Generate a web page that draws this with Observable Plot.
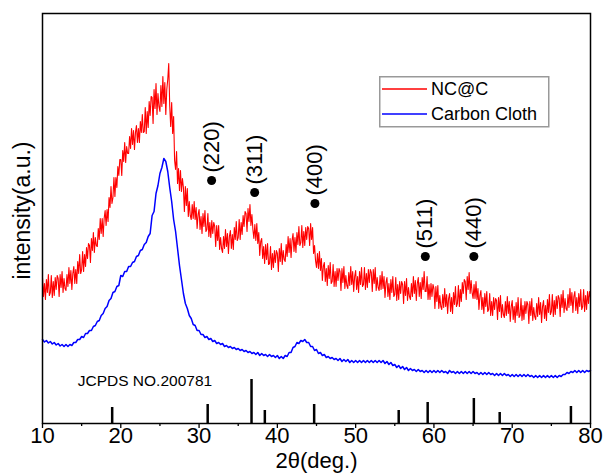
<!DOCTYPE html>
<html>
<head>
<meta charset="utf-8">
<script src="https://cdn.jsdelivr.net/npm/d3@7"></script>
<script src="https://cdn.jsdelivr.net/npm/@observablehq/plot@0.6"></script>
<style>
  body { margin: 0; background: #fff; }
  #wrap { position: relative; width: 604px; height: 476px; font-family: "Liberation Sans", Arial, sans-serif; }
  #legend { position: absolute; left: 379px; top: 76px; }
</style>
</head>
<body>
<div id="wrap"></div>
<script>
// ---- data ----
const angleStart = 10;      // 2θ of the first sample (deg)
const ncStep = 0.125;       // NC@C sampling step (deg)
const ccStep = 0.25;        // Carbon Cloth sampling step (deg)

const seriesNames = ["NC@C", "Carbon Cloth"];
const seriesColors = ["#ff0000", "#0000ff"];

// NC@C intensity (a.u.) (8 samples per degree)
const ncValues = [
  146,127,140,124,144,131,149,128, 131,148,126,142,128,146,134,148,
  145,127,149,136,152,131,145,135, 133,149,137,156,140,153,134,150,
  157,140,154,140,162,150,169,150, 154,172,152,169,157,176,165,180,
  178,161,185,173,191,171,186,178, 177,195,184,205,190,205,187,205,
  213,198,214,202,226,216,237,220, 226,246,227,246,236,257,248,264,
  264,248,273,262,281,261,277,270, 270,287,275,295,279,293,274,291,
  298,281,295,281,302,291,309,291, 292,316,290,312,296,322,308,327,
  326,300,334,315,340,309,330,317, 312,338,317,347,320,341,309,334,
  344,360,318,297,321,290,307,263, 254,272,240,255,233,253,232,245,
  236,212,237,218,235,207,222,208, 204,219,205,222,204,216,195,209,
  214,194,207,190,210,197,213,192, 194,210,187,201,186,203,190,201,
  197,177,198,183,198,174,186,175, 171,187,175,194,177,190,170,187,
  193,175,189,174,196,184,202,183, 186,204,184,201,189,208,197,212,
  210,192,215,202,219,198,209,194, 185,199,183,200,180,191,168,182,
  185,165,177,160,179,164,180,159, 160,177,154,170,156,173,161,173,
  170,152,175,162,180,159,173,164, 162,179,167,187,171,185,166,183,
  190,172,186,171,191,179,197,178, 181,198,176,192,178,196,184,197,
  195,178,200,184,196,170,178,163, 156,170,155,172,153,165,143,157,
  161,142,155,138,158,145,161,140, 142,159,137,152,137,155,143,155,
  152,133,155,141,157,135,148,138, 135,151,138,157,139,152,132,147,
  153,134,147,131,152,139,156,137, 139,156,134,150,136,154,141,154,
  151,132,154,140,156,133,146,136, 133,148,134,152,135,147,126,141,
  146,127,140,124,144,131,147,127, 129,146,123,139,124,142,130,142,
  139,120,142,128,145,123,136,127, 124,140,127,147,130,143,123,140,
  146,127,141,125,146,134,152,132, 132,147,124,139,124,140,127,139,
  135,115,137,122,138,115,128,117, 114,129,116,135,117,129,110,125,
  130,112,126,110,131,119,137,117, 120,138,117,134,122,141,130,144,
  142,124,147,134,151,130,143,131, 125,139,125,142,124,135,114,128,
  133,114,126,110,130,117,132,112, 114,130,108,122,108,126,114,125,
  123,104,126,112,128,106,119,109, 106,122,108,127,110,122,102,117,
  123,104,117,101,121,108,126,106, 108,125,103,118,104,122,110,122,
  119,100,122,108,125,103,116,107, 104,120,107,126,109,121,101,117,
  123,105,118,103,124,111,129,109, 112,129,107,123,109,127,115,128,
  125,107,129,116,133,111,125,115, 113,129,116,135,118,131,111,127,
  132,113,126,110,130,117,134,114, 117,134,112,128,114,132,120,132,
  126
];

// Carbon Cloth intensity (a.u.) (4 samples per degree)
const ccValues = [
  84,81.5,83,80.5, 82,79.5,81,78.5, 80,77.5,79,77, 79,77,79,78,
  81,81,84,84, 87,86,90,90, 93,93,97,98, 102,103,108,110,
  115,117,123,125, 131,132,137,138, 148,147,152,152, 157,157,161,162,
  167,168,173,174, 179,181,187,190, 208,212,230,238, 250,256,265,262,
  252,236,222,204, 192,175,158,144, 130,120,115,108, 105,99,98,93,
  93,89,89,86, 87,84,85,82, 83,80,81,79, 80,77,78,76,
  77,75,76,74, 75,73,74,72, 73,71,72,70, 71,69,71,68,
  70,68,69,67, 69,67,68,66, 68,65,67,65, 68,67,71,71,
  76,77,81,80, 83,82,84,81, 81,77,77,73, 74,70,71,68,
  69,66,67,65, 66,64,65,63, 65,62,64,62, 64,61,63,61,
  63,61,63,61, 63,61,63,61, 63,61,63,61, 63,61,63,60,
  62,59,61,58, 59,56,58,55, 57,54,56,53, 55,53,54,52,
  54,52,53,51, 53,51,53,51, 53,51,53,51, 53,51,52,50,
  53,51,52,50, 52,50,52,50, 52,50,52,50, 52,50,51,49,
  51,49,51,49, 51,49,50,48, 50,48,50,48, 50,48,49,47,
  49,47,49,47, 49,47,49,47, 49,47,48,46, 48,46,48,46,
  48,46,48,46, 48,46,48,46, 48,47,49,49, 51,50,52,51,
  53,51,53,51, 53,51,53,52, 53
];

// JCPDS No. 20-0781 reference lines: position (2θ) and height (a.u.)
const refAngles  = [18.9, 31.1, 36.7, 38.4, 44.7, 55.5, 59.2, 65.1, 68.4, 77.5];
const refHeights = [16,   19,   44,   13,   19,   13,   21,   25,   11,   17];
const refLabel = "JCPDS NO.200781";
const refLabelAt = {a: 14.5, v: 42};

// indexed peaks
const peakLabels = ["(220)", "(311)", "(400)", "(511)", "(440)"];
const peakAngles = [31.6, 37.1, 44.8, 58.9, 65.1];
const peakLevels = [243, 231, 220, 167, 167];

const xTicks = [10, 20, 30, 40, 50, 60, 70, 80];
const xMinorTicks = [15, 25, 35, 45, 55, 65, 75];
const xLabel = "2θ(deg.)";
const yLabel = "intensity(a.u.)";

// ---- tables ----
const ncData = ncValues.map((v, i) => ({a: angleStart + i * ncStep, v}));
const ccData = ccValues.map((v, i) => ({a: angleStart + i * ccStep, v}));
const refData = refAngles.map((a, i) => ({a, h: refHeights[i]}));
const peaks = peakLabels.map((t, i) => ({t, a: peakAngles[i], v: peakLevels[i]}));

const font = "'Liberation Sans', Arial, sans-serif";

const chart = Plot.plot({
  width: 604,
  height: 476,
  marginLeft: 42,
  marginRight: 14,
  marginTop: 13,
  marginBottom: 53,
  style: {fontFamily: font, background: "white", color: "black"},
  x: {domain: [10, 80]},
  y: {domain: [0, 410], axis: null},
  marks: [
    Plot.axisX({ticks: xMinorTicks, tickSize: 3, tickFormat: () => "", strokeWidth: 1.3, label: null}),
    Plot.axisX({ticks: xTicks, tickSize: 5, tickPadding: -1, fontSize: 22, tickFormat: d => d, strokeWidth: 1.3, label: null}),
    Plot.line(ncData, {x: "a", y: "v", stroke: seriesColors[0], strokeWidth: 1.1}),
    Plot.line(ccData, {x: "a", y: "v", stroke: seriesColors[1], strokeWidth: 1.5}),
    Plot.ruleX(refData, {x: "a", y1: 0, y2: "h", stroke: "black", strokeWidth: 2.5}),
    Plot.text([refLabelAt], {x: "a", y: "v", text: () => refLabel, textAnchor: "start", fontSize: 15.5}),
    Plot.dot(peaks, {x: "a", y: "v", r: 4.5, fill: "black", stroke: "none"}),
    Plot.text(peaks, {x: "a", y: "v", text: "t", rotate: -90, textAnchor: "start", dy: -8, fontSize: 22}),
    Plot.frame({stroke: "black", strokeWidth: 1.5}),
    Plot.text([yLabel], {frameAnchor: "left", dx: -20, dy: -8, rotate: -90, textAnchor: "middle", lineAnchor: "middle", fontSize: 23}),
    Plot.text([xLabel], {frameAnchor: "bottom", dy: 37.5, textAnchor: "middle", lineAnchor: "middle", fontSize: 22})
  ]
});

const wrap = document.getElementById("wrap");
wrap.appendChild(chart);

// legend (overlay)
const legend = d3.select(wrap).append("div").attr("id", "legend")
  .append("svg").attr("width", 171).attr("height", 52);
legend.append("rect").attr("x", 0.75).attr("y", 0.75).attr("width", 169).attr("height", 50)
  .attr("fill", "white").attr("stroke", "#999").attr("stroke-width", 1.5);
seriesNames.forEach((name, i) => {
  const cy = 13 + i * 25;
  legend.append("line").attr("x1", 3).attr("x2", 48).attr("y1", cy).attr("y2", cy)
    .attr("stroke", seriesColors[i]).attr("stroke-width", 1.5);
  legend.append("text").attr("x", 52).attr("y", cy).attr("dy", "0.35em")
    .attr("font-family", font).attr("font-size", 18).attr("fill", "black").text(name);
});
</script>
</body>
</html>
